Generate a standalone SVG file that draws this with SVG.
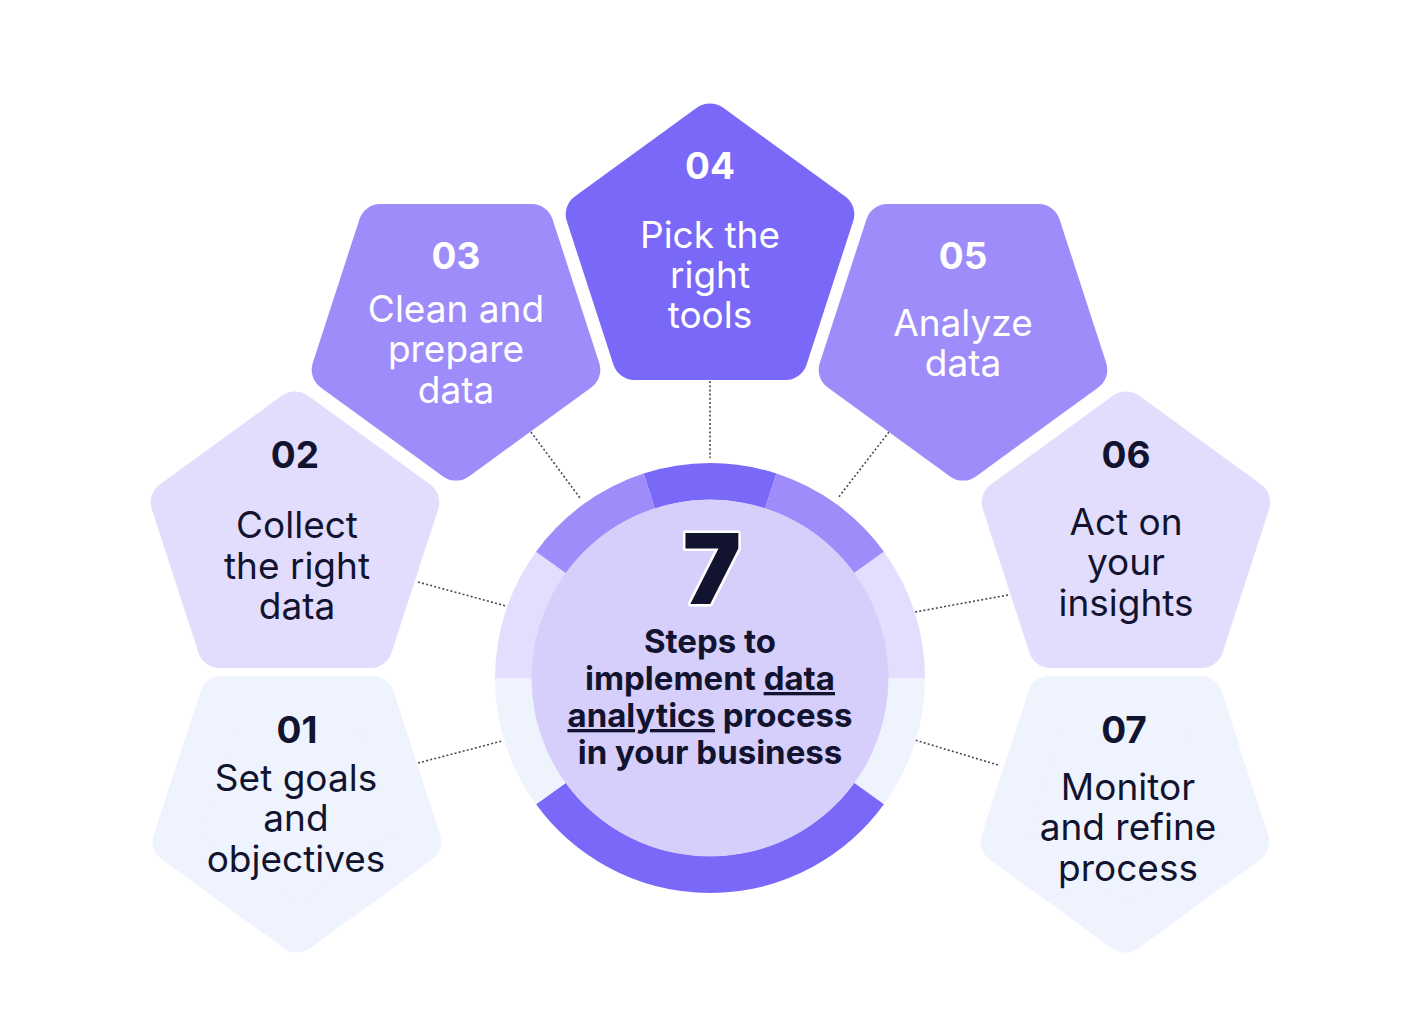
<svg xmlns="http://www.w3.org/2000/svg" width="1412" height="1036" viewBox="0 0 1412 1036">
<style>
  .pent { stroke-width: 44; stroke-linejoin: round; }
  .c1 { fill: #eef3fe; stroke: #eef3fe; }
  .c2 { fill: #e2ddfd; stroke: #e2ddfd; }
  .c3 { fill: #9d8cf9; stroke: #9d8cf9; }
  .c4 { fill: #7a68f8; stroke: #7a68f8; }
  .num { font-family: Inter, "Liberation Sans", sans-serif; font-weight: 700; font-size: 37px; text-anchor: middle; }
  .lbl { font-family: Inter, "Liberation Sans", sans-serif; font-weight: 400; font-size: 37px; text-anchor: middle; }
  .dark { fill: #12132f; }
  .light { fill: #ffffff; }
  .seg { fill: none; stroke-width: 37; stroke-linecap: butt; }
  .conn { stroke: #4a4a55; stroke-width: 1.6; stroke-dasharray: 2 2.2; fill: none; }
  .ctext { font-family: Inter, "Liberation Sans", sans-serif; font-weight: 700; font-size: 33px; text-anchor: middle; fill: #12132f; }
</style>
<rect width="1412" height="1036" fill="#ffffff"/>

<g id="connectors">
  <line class="conn" x1="710" y1="381" x2="710" y2="458"/>
  <line class="conn" x1="531" y1="432" x2="580" y2="498"/>
  <line class="conn" x1="889" y1="432" x2="838" y2="498"/>
  <line class="conn" x1="418" y1="582" x2="506" y2="606"/>
  <line class="conn" x1="1008" y1="595" x2="915" y2="612"/>
  <line class="conn" x1="418" y1="763" x2="502" y2="741"/>
  <line class="conn" x1="998" y1="765" x2="915" y2="740"/>
</g>

<g id="center">
  <path class="seg" stroke="#7a68f8" d="M649.28 491.11 A196.5 196.5 0 0 1 770.72 491.11"/>
  <path class="seg" stroke="#9d8cf9" d="M770.72 491.11 A196.5 196.5 0 0 1 868.97 562.50"/>
  <path class="seg" stroke="#e3defd" d="M868.97 562.50 A196.5 196.5 0 0 1 906.5 678"/>
  <path class="seg" stroke="#eef3fe" d="M906.5 678 A196.5 196.5 0 0 1 868.97 793.50"/>
  <path class="seg" stroke="#7a68f8" d="M868.97 793.50 A196.5 196.5 0 0 1 551.03 793.50"/>
  <path class="seg" stroke="#eef3fe" d="M551.03 793.50 A196.5 196.5 0 0 1 513.5 678"/>
  <path class="seg" stroke="#e3defd" d="M513.5 678 A196.5 196.5 0 0 1 551.03 562.50"/>
  <path class="seg" stroke="#9d8cf9" d="M551.03 562.50 A196.5 196.5 0 0 1 649.28 491.11"/>
  <circle cx="710" cy="678" r="178.5" fill="#d6cffb"/>
  <text x="712" y="604" font-family="Inter, 'Liberation Sans', sans-serif" font-weight="900" font-size="98" text-anchor="middle" fill="#12132f" stroke="#ffffff" stroke-width="5" paint-order="stroke" stroke-linejoin="round">7</text>
  <text class="ctext" x="710" y="653">Steps to</text>
  <text class="ctext" x="710" y="690">implement <tspan text-decoration="underline">data</tspan></text>
  <text class="ctext" x="710" y="727"><tspan text-decoration="underline">analytics</tspan> process</text>
  <text class="ctext" x="710" y="764">in your business</text>
</g>

<g id="step04">
  <polygon class="pent c4" transform="translate(710 254)" points="0,-128.6 122.3,-39.7 75.6,104 -75.6,104 -122.3,-39.7"/>
  <text class="num light" x="710" y="179">04</text>
  <text class="lbl light" x="710" y="248">Pick the</text>
  <text class="lbl light" x="710" y="288">right</text>
  <text class="lbl light" x="710" y="328">tools</text>
</g>

<g id="step03">
  <polygon class="pent c3" transform="translate(456 330)" points="0,128.6 122.3,39.7 75.6,-104 -75.6,-104 -122.3,39.7"/>
  <text class="num light" x="456" y="269">03</text>
  <text class="lbl light" x="456" y="322">Clean and</text>
  <text class="lbl light" x="456" y="362">prepare</text>
  <text class="lbl light" x="456" y="403">data</text>
</g>

<g id="step05">
  <polygon class="pent c3" transform="translate(963 330)" points="0,128.6 122.3,39.7 75.6,-104 -75.6,-104 -122.3,39.7"/>
  <text class="num light" x="963" y="269">05</text>
  <text class="lbl light" x="963" y="336">Analyze</text>
  <text class="lbl light" x="963" y="376">data</text>
</g>

<g id="step02">
  <polygon class="pent c2" transform="translate(295 542)" points="0,-128.6 122.3,-39.7 75.6,104 -75.6,104 -122.3,-39.7"/>
  <text class="num dark" x="295" y="468">02</text>
  <text class="lbl dark" x="297" y="538">Collect</text>
  <text class="lbl dark" x="297" y="579">the right</text>
  <text class="lbl dark" x="297" y="619">data</text>
</g>

<g id="step06">
  <polygon class="pent c2" transform="translate(1126 542)" points="0,-128.6 122.3,-39.7 75.6,104 -75.6,104 -122.3,-39.7"/>
  <text class="num dark" x="1126" y="468">06</text>
  <text class="lbl dark" x="1126" y="535">Act on</text>
  <text class="lbl dark" x="1126" y="575">your</text>
  <text class="lbl dark" x="1126" y="616">insights</text>
</g>

<g id="step01">
  <polygon class="pent c1" transform="translate(297 802)" points="0,128.6 122.3,39.7 75.6,-104 -75.6,-104 -122.3,39.7"/>
  <text class="num dark" x="297" y="743">01</text>
  <text class="lbl dark" x="296" y="791">Set goals</text>
  <text class="lbl dark" x="296" y="831">and</text>
  <text class="lbl dark" x="296" y="872">objectives</text>
</g>

<g id="step07">
  <polygon class="pent c1" transform="translate(1125 802)" points="0,128.6 122.3,39.7 75.6,-104 -75.6,-104 -122.3,39.7"/>
  <text class="num dark" x="1124" y="743">07</text>
  <text class="lbl dark" x="1128" y="800">Monitor</text>
  <text class="lbl dark" x="1128" y="840">and refine</text>
  <text class="lbl dark" x="1128" y="881">process</text>
</g>
</svg>
